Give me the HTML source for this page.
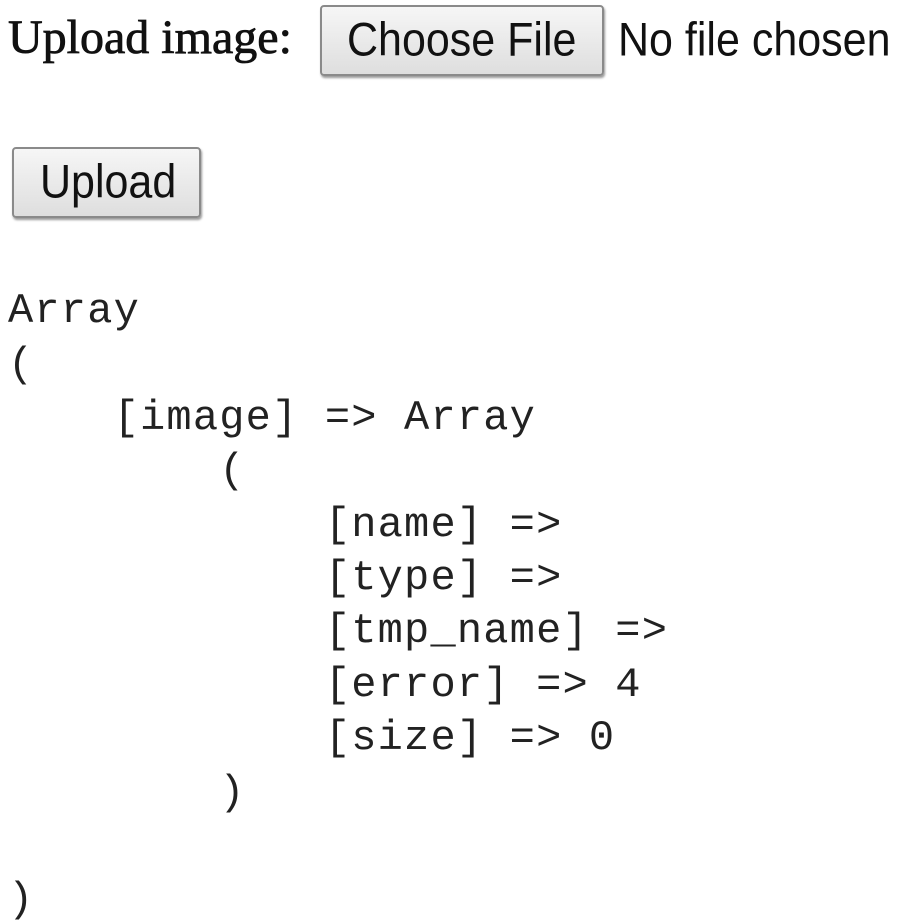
<!DOCTYPE html>
<html><head><meta charset="utf-8"><style>
html,body{margin:0;padding:0;background:#fff;width:900px;height:923px;overflow:hidden;position:relative;color:#111}
.a{position:absolute;white-space:pre;line-height:1}
.serif{font-family:"Liberation Serif",serif;font-size:48px;-webkit-text-stroke:0.8px #111}
.sans{font-family:"Liberation Sans",sans-serif;font-size:43px;transform-origin:left top;transform:scaleY(1.1)}
.btn{position:absolute;box-sizing:border-box;border:2px solid #8a8a8a;border-radius:4px;background:linear-gradient(#f6f6f6,#dedede);box-shadow:1px 2px 2px #999}
.mono{font-family:"Liberation Mono",monospace;font-size:42px;letter-spacing:1.2px;color:#222}
</style></head><body>
<div class="a serif" style="left:8px;top:14px">Upload image:</div>
<div class="btn" style="left:320px;top:5px;width:284px;height:71px"></div>
<div class="a sans" style="left:347px;top:17px">Choose File</div>
<div class="a sans" style="left:618px;top:17px">No file chosen</div>
<div class="btn" style="left:12px;top:147px;width:189px;height:71px"></div>
<div class="a sans" style="left:40px;top:159px">Upload</div>
<div class="a mono" style="left:8px;top:290px">Array</div>
<div class="a mono" style="left:8px;top:344px">(</div>
<div class="a mono" style="left:8px;top:397px">    [image] =&gt; Array</div>
<div class="a mono" style="left:8px;top:450px">        (</div>
<div class="a mono" style="left:8px;top:504px">            [name] =&gt;</div>
<div class="a mono" style="left:8px;top:557px">            [type] =&gt;</div>
<div class="a mono" style="left:8px;top:610px">            [tmp_name] =&gt;</div>
<div class="a mono" style="left:8px;top:664px">            [error] =&gt; 4</div>
<div class="a mono" style="left:8px;top:717px">            [size] =&gt; 0</div>
<div class="a mono" style="left:8px;top:772px">        )</div>
<div class="a mono" style="left:8px;top:879px">)</div>
</body></html>
